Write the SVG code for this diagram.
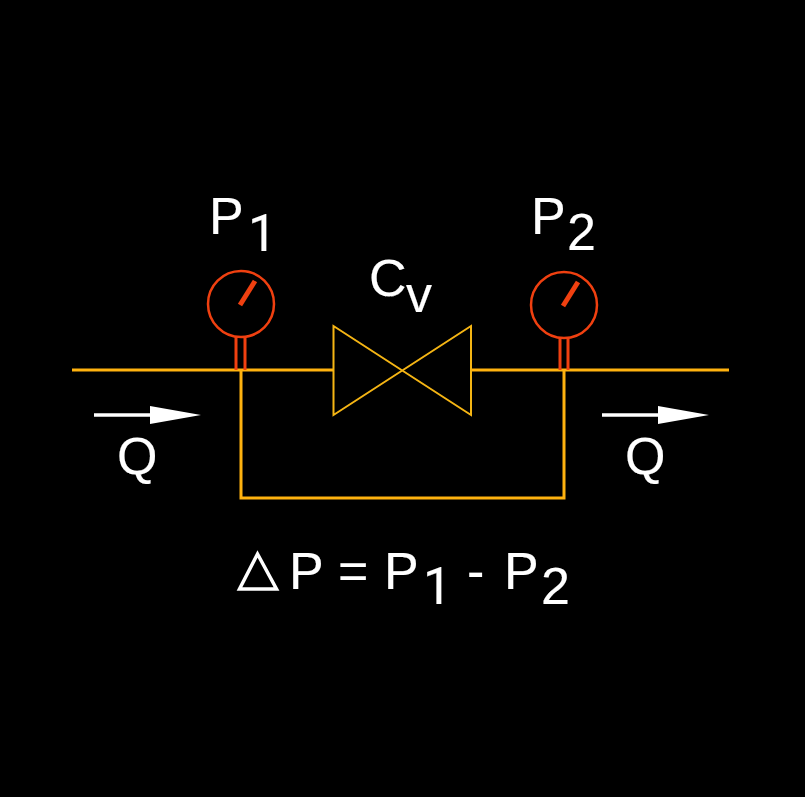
<svg xmlns="http://www.w3.org/2000/svg" width="805" height="797" viewBox="0 0 805 797">
<style>
text{font-family:"Liberation Sans",Arial,sans-serif;font-size:52px;fill:#fff;stroke:#fff;stroke-width:.15}
text.one{font-family:Roboto,"Liberation Sans",sans-serif;font-size:51px}
.pipe{fill:none;stroke:#ffb20f;stroke-width:3}
.thin{fill:none;stroke:#f5b514;stroke-width:2}
.red{fill:none;stroke:#f04010;stroke-width:2.500}
.tap{fill:none;stroke:#f04010;stroke-width:3}
.needle{fill:none;stroke:#f04010;stroke-width:5}
.flow{stroke:#fff;stroke-width:3.500;fill:none}
.head{fill:#fff}
</style>
<rect width="805" height="797" fill="#000"/>
<g id="connectors">
<path class="pipe" d="M72 370H333M471 370H729"/>
<path class="pipe" d="M241 370V498H564V370"/>
</g>
<g id="valve">
<path class="thin" d="M333.500 326V415L471 326V415Z"/>
</g>
<g id="gauge-p1">
<circle class="red" cx="241" cy="304" r="33"/>
<path class="tap" d="M236 337V370M245 337V370"/>
<path class="needle" d="M240 305L255 281"/>
</g>
<g id="gauge-p2">
<circle class="red" cx="564" cy="305" r="33"/>
<path class="tap" d="M560 338V370M568 338V370"/>
<path class="needle" d="M563 306L578 282"/>
</g>
<g id="flow-in">
<path class="flow" d="M94 415H155"/>
<path class="head" d="M150 406L201 415L150 424Z"/>
<text x="117" y="474">Q</text>
</g>
<g id="flow-out">
<path class="flow" d="M602 415H663"/>
<path class="head" d="M658 406L709 415L658 424Z"/>
<text x="625" y="474">Q</text>
</g>
<g id="label-p1"><text x="209" y="234">P</text><text class="one" x="248" y="251">1</text></g>
<g id="label-p2"><text x="531" y="234">P</text><text x="567" y="250">2</text></g>
<g id="label-cv"><text x="369" y="296">C</text><text x="406" y="312">v</text></g>
<g id="equation">
<path d="M257.500 554L239.500 589H276.500Z" fill="none" stroke="#fff" stroke-width="3.500"/>
<text x="289" y="589">P</text>
<text x="338" y="589">=</text>
<text x="384" y="589">P</text>
<text class="one" x="423" y="604">1</text>
<text x="467" y="589">-</text>
<text x="504" y="589">P</text>
<text x="541" y="604">2</text>
</g>
</svg>
